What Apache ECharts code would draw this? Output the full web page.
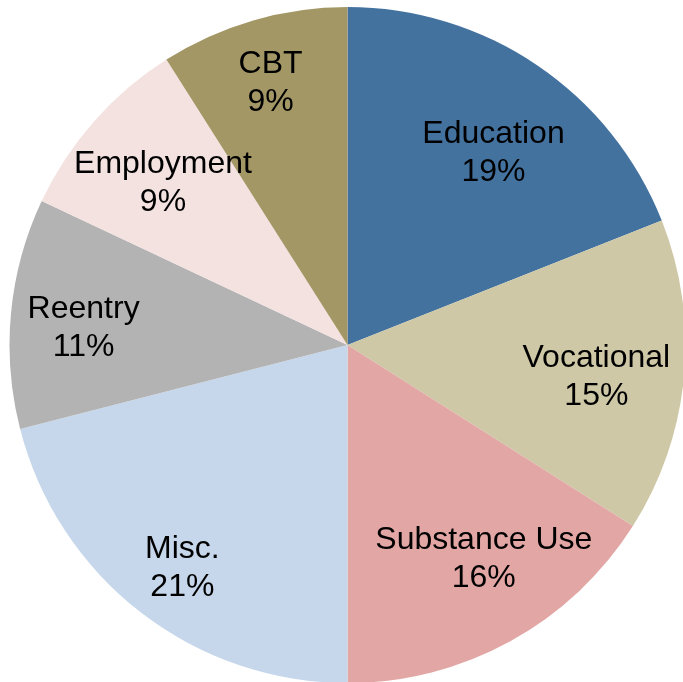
<!DOCTYPE html>
<html>
<head>
<meta charset="utf-8">
<script src="https://cdn.jsdelivr.net/npm/echarts@6/dist/echarts.min.js"></script>
<style>
  html, body { margin: 0; padding: 0; background: #ffffff; }
  #chart { width: 683px; height: 682px; }
</style>
</head>
<body>
<div id="chart"></div>
<script>
// Share of programs by type (percent)
const categories = ['Education', 'Vocational', 'Substance Use', 'Misc.', 'Reentry', 'Employment', 'CBT'];
const shares = [19, 15, 16, 21, 11, 9, 9];
const colors = ['#44729f', '#cec8a6', '#e2a7a5', '#c6d7eb', '#b3b3b3', '#f4e2e1', '#a39766'];
// fine placement of each label inside its slice, in pixels
const labelNudge = {
  'Education': [1, 22],
  'Vocational': [-8, 8],
  'Substance Use': [12, -12],
  'Misc.': [-7, 19],
  'Reentry': [-7, 7],
  'Employment': [9, 9],
  'CBT': [-5, -14]
};

const radius = 338;

const chart = echarts.init(document.getElementById('chart'), null, { renderer: 'canvas' });

const sliceData = categories.map((name, i) => ({
  name,
  value: shares[i],
  itemStyle: { color: colors[i] }
}));

const labelData = categories.map((name, i) => ({
  name,
  value: shares[i],
  label: { offset: labelNudge[name] || [0, 0] }
}));

chart.setOption({
  animation: false,
  series: [
    {
      type: 'pie',
      center: [347.5, 345],
      radius: [0, radius],
      startAngle: 90,
      clockwise: true,
      silent: true,
      label: { show: false },
      labelLine: { show: false },
      itemStyle: { borderWidth: 0 },
      data: sliceData
    },
    {
      // label ring: transparent slices whose midpoints sit where the labels go
      type: 'pie',
      center: [347.5, 345],
      radius: [172, radius],
      startAngle: 90,
      clockwise: true,
      silent: true,
      itemStyle: { color: 'rgba(0,0,0,0)', borderWidth: 0 },
      labelLine: { show: false },
      label: {
        show: true,
        position: 'inside',
        formatter: p => p.name + '\n' + p.value + '%',
        fontFamily: 'Liberation Sans, Arial, sans-serif',
        fontSize: 32,
        lineHeight: 38,
        color: '#000000',
        align: 'center'
      },
      data: labelData
    }
  ]
});
</script>
</body>
</html>
